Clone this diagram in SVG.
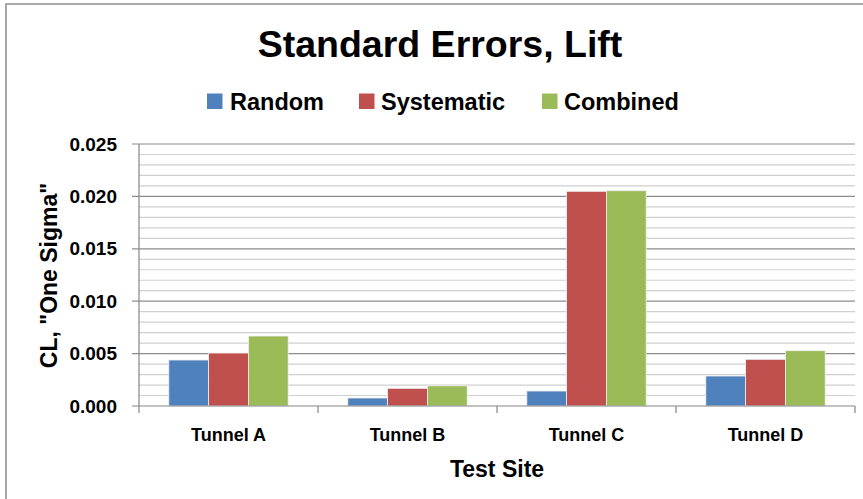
<svg xmlns="http://www.w3.org/2000/svg" width="863" height="499" viewBox="0 0 863 499">
<style>
text{font-family:"Liberation Sans",Arial,sans-serif;font-weight:bold;fill:#000}
.minor{stroke:#D0D0D0;stroke-width:1.2}
.major{stroke:#8C8C8C;stroke-width:1.2}
.axis{stroke:#868686;stroke-width:1.2;fill:none}
.b{fill:#4F81BD}
.r{fill:#C0504D}
.g{fill:#9BBB59}
.bar{stroke:#F2F2F2;stroke-width:0.8}
.ytick{font-size:19px;text-anchor:end}
.xlab{font-size:18px;text-anchor:middle}
</style>
<rect width="863" height="499" fill="#fff"/>
<path d="M6,499 V4 H863" fill="none" stroke="#8C8C8C" stroke-width="1.5"/>
<text x="440" y="57" font-size="37.5" text-anchor="middle">Standard Errors, Lift</text>
<g id="legend" font-size="23">
<rect x="207" y="93.5" width="15.5" height="15.5" class="b"/>
<text x="230" y="109.5" font-size="23.5">Random</text>
<rect x="359" y="93.5" width="15.5" height="15.5" class="r"/>
<text x="381" y="109.5" font-size="23.5">Systematic</text>
<rect x="542" y="93.5" width="15.5" height="15.5" class="g"/>
<text x="564" y="109.5" font-size="23.5">Combined</text>
</g>
<g id="grid">
<line class="minor" x1="139" x2="855" y1="395.52" y2="395.52"/>
<line class="minor" x1="139" x2="855" y1="385.04" y2="385.04"/>
<line class="minor" x1="139" x2="855" y1="374.56" y2="374.56"/>
<line class="minor" x1="139" x2="855" y1="364.08" y2="364.08"/>
<line class="major" x1="132" x2="855" y1="353.6" y2="353.6"/>
<line class="minor" x1="139" x2="855" y1="343.12" y2="343.12"/>
<line class="minor" x1="139" x2="855" y1="332.64" y2="332.64"/>
<line class="minor" x1="139" x2="855" y1="322.16" y2="322.16"/>
<line class="minor" x1="139" x2="855" y1="311.68" y2="311.68"/>
<line class="major" x1="132" x2="855" y1="301.2" y2="301.2"/>
<line class="minor" x1="139" x2="855" y1="290.72" y2="290.72"/>
<line class="minor" x1="139" x2="855" y1="280.24" y2="280.24"/>
<line class="minor" x1="139" x2="855" y1="269.76" y2="269.76"/>
<line class="minor" x1="139" x2="855" y1="259.28" y2="259.28"/>
<line class="major" x1="132" x2="855" y1="248.8" y2="248.8"/>
<line class="minor" x1="139" x2="855" y1="238.32" y2="238.32"/>
<line class="minor" x1="139" x2="855" y1="227.84" y2="227.84"/>
<line class="minor" x1="139" x2="855" y1="217.36" y2="217.36"/>
<line class="minor" x1="139" x2="855" y1="206.88" y2="206.88"/>
<line class="major" x1="132" x2="855" y1="196.4" y2="196.4"/>
<line class="minor" x1="139" x2="855" y1="185.92" y2="185.92"/>
<line class="minor" x1="139" x2="855" y1="175.44" y2="175.44"/>
<line class="minor" x1="139" x2="855" y1="164.96" y2="164.96"/>
<line class="minor" x1="139" x2="855" y1="154.48" y2="154.48"/>
<line class="major" x1="132" x2="855" y1="144" y2="144"/>
</g>
<g id="bars">
<rect class="bar b" x="168.8" y="360" width="39.8" height="46"/>
<rect class="bar r" x="208.6" y="353" width="39.8" height="53"/>
<rect class="bar g" x="248.4" y="336" width="39.8" height="70"/>
<rect class="bar b" x="347.8" y="398" width="39.8" height="8"/>
<rect class="bar r" x="387.6" y="388.3" width="39.8" height="17.7"/>
<rect class="bar g" x="427.4" y="385.8" width="39.8" height="20.2"/>
<rect class="bar b" x="526.8" y="391" width="39.8" height="15"/>
<rect class="bar r" x="566.6" y="191.3" width="39.8" height="214.7"/>
<rect class="bar g" x="606.4" y="190.7" width="39.8" height="215.3"/>
<rect class="bar b" x="705.8" y="376" width="39.8" height="30"/>
<rect class="bar r" x="745.6" y="359.3" width="39.8" height="46.7"/>
<rect class="bar g" x="785.4" y="350.7" width="39.8" height="55.3"/>
</g>
<g id="axes">
<path class="axis" d="M139,144 V413 M132,406 H855 M318,406 V413 M497,406 V413 M676,406 V413 M855,406 V413"/>
</g>
<g id="ylabels">
<text class="ytick" x="117" y="150.5">0.025</text>
<text class="ytick" x="117" y="203">0.020</text>
<text class="ytick" x="117" y="255.3">0.015</text>
<text class="ytick" x="117" y="307.7">0.010</text>
<text class="ytick" x="117" y="360">0.005</text>
<text class="ytick" x="117" y="412.5">0.000</text>
</g>
<g id="xlabels">
<text class="xlab" x="228.5" y="441">Tunnel A</text>
<text class="xlab" x="407.5" y="441">Tunnel B</text>
<text class="xlab" x="586.5" y="441">Tunnel C</text>
<text class="xlab" x="765.5" y="441">Tunnel D</text>
</g>
<text x="497" y="477" font-size="23" text-anchor="middle">Test Site</text>
<text transform="translate(56.5,275.5) rotate(-90)" font-size="23" text-anchor="middle">CL, "One Sigma"</text>
</svg>
